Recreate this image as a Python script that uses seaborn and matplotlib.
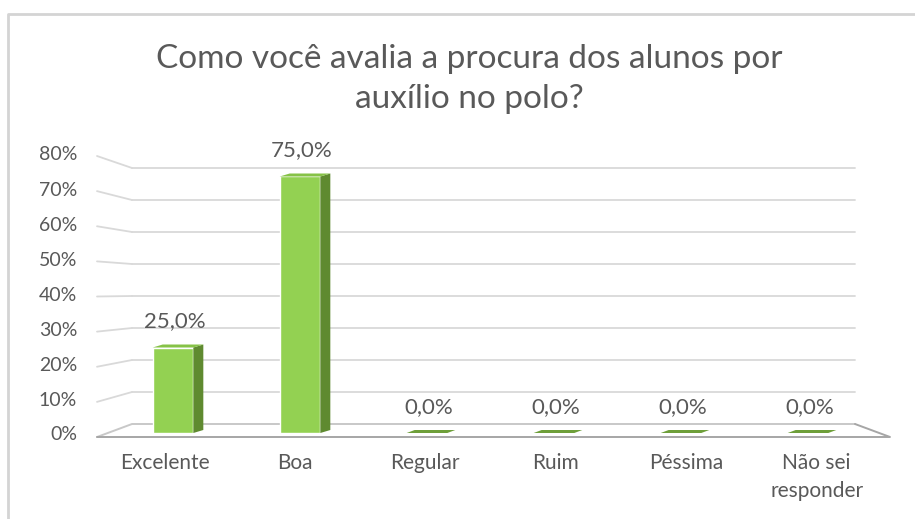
import matplotlib
matplotlib.use("Agg")
import matplotlib.pyplot as plt
import matplotlib.patches as mpatches
import seaborn as sns
import pandas as pd

# ---- data -------------------------------------------------------------
categories = ["Excelente", "Boa", "Regular", "Ruim", "Péssima", "Não sei\nresponder"]
values = [25.0, 75.0, 0.0, 0.0, 0.0, 0.0]
y_ticks = [0, 10, 20, 30, 40, 50, 60, 70, 80]
title = "Como você avalia a procura dos alunos por\nauxílio no polo?"

# ---- style ------------------------------------------------------------
sns.set_theme(style="white")
plt.rcParams["font.family"] = ["Lato", "DejaVu Sans"]
TXT = "#595959"
GRID = "#D9D9D9"
EDGE = "#A6A6A6"
FRONT = "#93D152"
SIDE = "#5F8A30"
TOP = "#86C247"
FLAT = "#6E9F3A"

W, H = 915, 519
fig = plt.figure(figsize=(W / 100, H / 100), dpi=100)

# background layer in pixel units (origin top-left) for frame, walls and floor
bg = fig.add_axes([0, 0, 1, 1])
bg.set_xlim(0, W)
bg.set_ylim(H, 0)
bg.axis("off")

# chart-area frame
bg.plot([7.5, 7.5, W], [H, 14, 14], color="#D4D4D4", lw=2, solid_capstyle="butt")

# wall geometry: front-left edge and back wall
FX, BX, BXR, FXR = 97, 132, 855, 890
def y_front(v):
    return 437 - 3.5125 * v
def y_back(v):
    return 424 - 3.2 * v

for v in y_ticks[1:]:
    bg.plot([FX, BX], [y_front(v), y_back(v)], color=GRID, lw=1.3)
    bg.plot([BX, BXR], [y_back(v), y_back(v)], color=GRID, lw=1.3)
    bg.text(77, y_front(v) - 1, f"{v}%", ha="right", va="center",
            fontsize=14, color=TXT)
bg.text(77, y_front(0) - 2, "0%", ha="right", va="center", fontsize=14, color=TXT)

# floor
floor = mpatches.Polygon([(BX, y_back(0)), (BXR, y_back(0)), (FXR, y_front(0)), (FX, y_front(0))],
                         closed=True, facecolor="white", edgecolor="none")
bg.add_patch(floor)
bg.plot([FX, BX, BXR], [y_front(0), y_back(0), y_back(0)], color="#C8C8C8", lw=1.4)
bg.plot([FX, FXR, BXR], [y_front(0), y_front(0), y_back(0)], color=EDGE, lw=1.4)

# title
bg.text(469, 79, title, ha="center", va="center", fontsize=24, color=TXT,
        linespacing=1.42)

# ---- bars -------------------------------------------------------------
ax = fig.add_axes([109.5 / W, (H - 433) / H, 762 / W, 273.6 / H])
ax.patch.set_alpha(0)
df = pd.DataFrame({"categoria": categories, "valor": values})
sns.barplot(data=df, x="categoria", y="valor", color=FRONT, width=0.32,
            saturation=1, ax=ax, zorder=3)
ax.set_xlim(-0.5, len(categories) - 0.5)
ax.set_ylim(0, 80)
ax.axis("off")

to_px = ax.transData + bg.transData.inverted()
DX, DY = 10, -3   # depth offset in pixels

for i, (cat, v) in enumerate(zip(categories, values)):
    bar = ax.patches[i]
    x0, x1 = bar.get_x(), bar.get_x() + bar.get_width()
    (px0, py0), (px1, py1) = to_px.transform([(x0, 0), (x1, v)])
    if v > 0:
        side = [(px1, py0), (px1, py1), (px1 + DX, py1 + DY), (px1 + DX, py0 + DY)]
        ax.add_patch(mpatches.Polygon(side, closed=True, facecolor=SIDE, edgecolor="none",
                                      transform=bg.transData, zorder=4, clip_on=False))
        top = [(px0, py1), (px1, py1), (px1 + DX, py1 + DY), (px0 + DX, py1 + DY)]
        ax.add_patch(mpatches.Polygon(top, closed=True, facecolor=TOP, edgecolor="none",
                                      transform=bg.transData, zorder=4, clip_on=False))
    else:
        top = [(px0, py0), (px1, py0), (px1 + DX - 2, py0 + DY), (px0 + DX - 2, py0 + DY)]
        ax.add_patch(mpatches.Polygon(top, closed=True, facecolor=FLAT, edgecolor="none",
                                      transform=bg.transData, zorder=4, clip_on=False))
    # value label
    label = f"{v:.1f}".replace(".", ",") + "%"
    cx = (px0 + px1) / 2
    bg.text(cx + 2, py1 - 26, label, ha="center", va="center", fontsize=16,
            color=TXT, zorder=5)
    # category label, spread slightly for the nearer floor edge
    lx = 490 + (cx - 490) * 1.027
    bg.text(lx, 453, cat, ha="center", va="top", fontsize=15, color=TXT,
            linespacing=1.5)

fig.savefig("out.png", dpi=100)
